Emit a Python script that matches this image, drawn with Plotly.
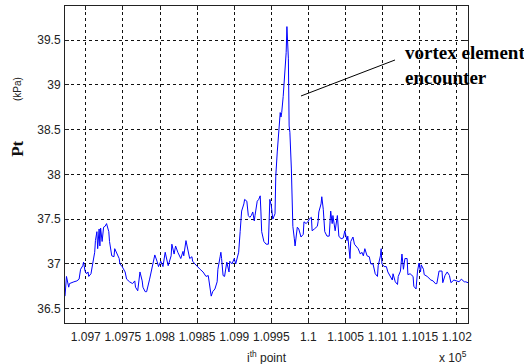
import plotly.graph_objects as go

# i-th point (sample index) and total pressure Pt (kPa)
point_index = [
    109672, 109674, 109677, 109678, 109684, 109688, 109691, 109693, 109696, 109697,
    109699, 109701, 109703, 109704, 109707, 109709, 109712, 109713, 109715, 109716,
    109718, 109719, 109720, 109722, 109724, 109726, 109728, 109731, 109732, 109735,
    109738, 109739, 109742, 109745, 109746, 109749, 109753, 109755, 109759, 109763,
    109766, 109767, 109770, 109773, 109776, 109777, 109780, 109782, 109786, 109790,
    109793, 109796, 109798, 109801, 109804, 109807, 109809, 109811, 109815, 109816,
    109819, 109821, 109824, 109828, 109831, 109832, 109835, 109838, 109840, 109843,
    109844, 109847, 109850, 109854, 109858, 109862, 109865, 109867, 109869, 109871,
    109874, 109877, 109878, 109881, 109882, 109883, 109885, 109887, 109890, 109893,
    109894, 109897, 109900, 109902, 109906, 109908, 109910, 109913, 109914, 109917,
    109919, 109921, 109923, 109925, 109927, 109928, 109931, 109933, 109935, 109936,
    109937, 109940, 109943, 109946, 109947, 109948, 109950, 109951, 109952, 109955,
    109956, 109958, 109960, 109962, 109963, 109964, 109966, 109969, 109970, 109971,
    109972, 109973, 109974, 109975, 109977, 109978, 109979, 109981, 109982, 109985,
    109987, 109990, 109993, 109994, 109997, 110000, 110001, 110004, 110005, 110008,
    110012, 110013, 110014, 110017, 110018, 110020, 110022, 110025, 110028, 110030,
    110032, 110033, 110036, 110039, 110040, 110041, 110044, 110047, 110049, 110052,
    110053, 110055, 110056, 110057, 110060, 110062, 110064, 110067, 110070, 110072,
    110074, 110076, 110079, 110082, 110084, 110087, 110090, 110093, 110094, 110097,
    110098, 110099, 110102, 110105, 110107, 110110, 110113, 110114, 110117, 110120,
    110121, 110124, 110125, 110126, 110128, 110130, 110133, 110134, 110137, 110140,
    110141, 110142, 110145, 110147, 110149, 110151, 110152, 110155, 110156, 110160,
    110163, 110165, 110168, 110171, 110173, 110175, 110176, 110180, 110181, 110184,
    110187, 110190, 110192, 110196, 110200, 110203, 110206, 110210, 110212, 110215,
]
pt_kpa = [
    36.64, 36.86, 36.74, 36.78, 36.80, 36.81, 36.83, 36.94, 36.98, 37.02,
    36.92, 36.89, 36.91, 36.86, 36.89, 36.98, 37.13, 37.26, 37.36, 37.17,
    37.39, 37.20, 37.40, 37.25, 37.41, 37.42, 37.45, 37.36, 37.25, 37.09,
    37.08, 37.17, 37.11, 37.06, 37.00, 36.97, 36.91, 36.83, 36.80, 36.78,
    36.81, 36.74, 36.70, 36.91, 36.81, 36.74, 36.69, 36.69, 36.83, 36.97,
    37.10, 37.03, 36.97, 37.03, 36.97, 37.13, 37.03, 36.98, 37.09, 37.22,
    37.11, 37.20, 37.13, 37.06, 37.14, 37.09, 37.26, 37.11, 37.06, 37.08,
    37.03, 37.00, 36.97, 36.94, 36.91, 36.86, 36.87, 36.75, 36.64, 36.69,
    36.72, 36.80, 36.94, 37.08, 37.13, 37.06, 36.87, 36.86, 37.02, 36.91,
    37.03, 37.00, 37.06, 37.00, 37.13, 37.36, 37.59, 37.67, 37.72, 37.70,
    37.54, 37.52, 37.54, 37.58, 37.48, 37.54, 37.70, 37.72, 37.76, 37.58,
    37.36, 37.25, 37.22, 37.22, 37.65, 37.72, 37.65, 37.52, 37.50, 37.56,
    37.98, 38.25, 38.47, 38.69, 38.64, 38.69, 38.87, 39.17, 39.36, 39.65,
    39.53, 39.29, 38.54, 38.47, 38.06, 37.72, 37.42, 37.28, 37.20, 37.41,
    37.39, 37.30, 37.33, 37.47, 37.45, 37.48, 37.50, 37.52, 37.37, 37.39,
    37.42, 37.47, 37.58, 37.67, 37.75, 37.61, 37.36, 37.31, 37.31, 37.59,
    37.45, 37.54, 37.37, 37.54, 37.45, 37.31, 37.28, 37.29, 37.37, 37.26,
    37.31, 37.11, 37.06, 37.25, 37.30, 37.22, 37.20, 37.17, 37.11, 37.13,
    37.09, 37.17, 37.09, 37.08, 37.00, 37.00, 36.89, 36.86, 36.98, 37.09,
    37.17, 37.00, 36.97, 36.97, 36.91, 36.87, 36.82, 36.89, 36.80, 36.77,
    36.86, 36.92, 37.09, 37.11, 36.94, 37.06, 37.06, 36.88, 36.89, 36.86,
    36.86, 36.75, 36.72, 36.92, 37.01, 36.91, 36.99, 36.94, 36.88, 36.86,
    36.83, 36.82, 36.81, 36.78, 36.78, 36.89, 36.92, 36.92, 36.79, 36.87,
    36.91, 36.87, 36.79, 36.82, 36.81, 36.80, 36.83, 36.80, 36.80, 36.79,
]

x_tick_vals = [109700, 109750, 109800, 109850, 109900, 109950, 110000, 110050, 110100, 110150, 110200]
x_tick_text = ["1.097", "1.0975", "1.098", "1.0985", "1.099", "1.0995", "1.1", "1.1005", "1.101", "1.1015", "1.102"]
y_tick_vals = [36.5, 37, 37.5, 38, 38.5, 39, 39.5]

fig = go.Figure()
fig.add_trace(go.Scatter(x=point_index, y=pt_kpa, mode="lines",
                         line=dict(color="#0000ff", width=1), showlegend=False))

axis_common = dict(
    showline=True, linecolor="#222", linewidth=1, mirror="ticks",
    ticks="inside", ticklen=4, tickcolor="#222",
    showgrid=True, gridcolor="#111", gridwidth=1, griddash="3px,3px",
    zeroline=False,
    tickfont=dict(family="Liberation Sans, Arial", size=12, color="#222"),
)

fig.update_layout(
    width=524, height=364,
    margin=dict(l=65, r=56, t=6, b=41),
    paper_bgcolor="white", plot_bgcolor="white",
    xaxis=dict(range=[109672, 110215], tickvals=x_tick_vals, ticktext=x_tick_text,
               ticklabelstandoff=3, **axis_common),
    yaxis=dict(range=[36.34, 39.88], tickvals=y_tick_vals, ticklabelstandoff=1, **axis_common),
)

ann_font = dict(family="Liberation Sans, Arial", color="#222")
fig.add_annotation(text="<b>Pt</b>", xref="paper", yref="paper", x=-0.117, y=0.549,
                   textangle=-90, showarrow=False, xanchor="center", yanchor="middle",
                   font=dict(family="Liberation Serif, Times New Roman", size=17, color="#111"))
fig.add_annotation(text="(kPa)", xref="paper", yref="paper", x=-0.119, y=0.738,
                   textangle=-90, showarrow=False, xanchor="center", yanchor="middle",
                   font=dict(size=10, **ann_font))
fig.add_annotation(text="i<sup>th</sup> point", xref="paper", yref="paper", x=0.501, y=-0.106,
                   showarrow=False, xanchor="center", yanchor="middle",
                   font=dict(size=12, **ann_font))
fig.add_annotation(text="x 10<sup>5</sup>", xref="paper", yref="paper", x=0.963, y=-0.108,
                   showarrow=False, xanchor="center", yanchor="middle",
                   font=dict(size=12, **ann_font))
fig.add_annotation(text="<b>vortex element</b><br><b>encounter</b>", xref="paper", yref="paper",
                   x=0.8387, y=0.893, showarrow=False, xanchor="left", yanchor="top", align="left",
                   font=dict(family="Liberation Serif, Times New Roman", size=19, color="black"))
fig.add_shape(type="line", xref="paper", yref="paper", x0=0.5856, y0=0.7161, x1=0.8189, y1=0.8297,
              line=dict(color="black", width=1))

fig.write_html("out.html")
